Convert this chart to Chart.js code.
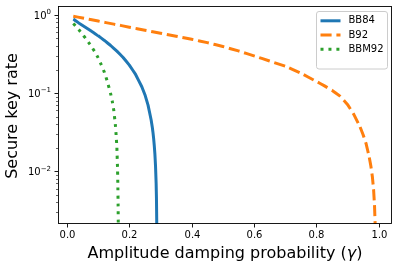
<!DOCTYPE html>
<html><head><meta charset="utf-8">
<script src="https://cdn.jsdelivr.net/npm/chart.js@4/dist/chart.umd.min.js"></script>
<style>html,body{margin:0;padding:0;background:#fff;overflow:hidden}#wrap{width:399px;height:271px;position:relative}</style>
</head><body><div id="wrap"><canvas id="c" width="399" height="271"></canvas></div>
<script>
// ---- data ----
const seriesNames = ['BB84', 'B92', 'BBM92'];
const bb84Gamma = [0.02,0.04,0.06,0.08,0.10,0.12,0.14,0.16,0.18,0.20,0.22,0.24,0.25,0.26,0.27,0.274,0.276,0.278,0.280,0.282,0.284,0.286,0.287,0.288,0.2887];
const bb84Rate  = [0.885,0.777,0.691,0.612,0.540,0.471,0.406,0.344,0.285,0.228,0.173,0.1205,0.0953,0.0701,0.0452,0.0357,0.0309,0.0261,0.0213,0.0165,0.0117,0.0069,0.0045,0.0021,0.0005];
const b92Gamma  = [0.02,0.05,0.10,0.15,0.20,0.25,0.30,0.35,0.40,0.45,0.50,0.55,0.60,0.65,0.70,0.75,0.80,0.825,0.85,0.875,0.90,0.92,0.94,0.95,0.96,0.97,0.975,0.98,0.984,0.987,0.989,0.99];
const b92Rate   = [0.962,0.912,0.834,0.762,0.697,0.637,0.582,0.533,0.488,0.442,0.394,0.346,0.299,0.257,0.221,0.180,0.141,0.1245,0.1084,0.0923,0.0716,0.0537,0.0372,0.0295,0.0224,0.0151,0.01175,0.00851,0.00575,0.00355,0.0020,0.00063];
const bbm92Gamma = [0.02,0.03,0.04,0.05,0.06,0.07,0.08,0.09,0.10,0.11,0.12,0.13,0.14,0.145,0.15,0.155,0.158,0.160,0.162,0.163,0.164,0.1645,0.165];
const bbm92Rate  = [0.775,0.708,0.631,0.562,0.499,0.440,0.385,0.333,0.282,0.229,0.184,0.138,0.0977,0.0794,0.0603,0.0398,0.0275,0.020,0.0112,0.0071,0.00355,0.0020,0.00063];

const xTickValues = [0.0,0.2,0.4,0.6,0.8,1.0];
const xTickLabels = ['0.0','0.2','0.4','0.6','0.8','1.0'];
const yMajorTicks = [0.01,0.1,1];
const yMajorExps  = ['\u22122','\u22121','0'];
const xTitle = 'Amplitude damping probability (';
const xTitleSym = '\u03b3';
const xTitleEnd = ')';
const yTitle = 'Secure key rate';

const xMin = -0.029, xMax = 1.043, yMin = 0.00211, yMax = 1.30;

const colors = ['#1f77b4','#ff7f0e','#2ca02c'];
const dashes = [[], [11.1,4.8], [3,4.95]];
const FONT = '"DejaVu Sans", sans-serif';

function pts(g, r){ return g.map((v,i)=>({x:v, y:r[i]})); }

const decor = {
  id:'decor',
  afterDraw(chart){
    const {ctx, chartArea:a, scales:{x, y}} = chart;
    ctx.save();
    // frame
    ctx.strokeStyle = '#000'; ctx.lineWidth = 0.9;
    ctx.strokeRect(a.left+0.5, a.top+0.5, a.right-a.left-1, a.bottom-a.top-1);
    ctx.fillStyle = '#000';
    // x ticks + labels
    ctx.font = '10px ' + FONT; ctx.textAlign = 'center'; ctx.textBaseline = 'middle';
    xTickValues.forEach((v,i)=>{
      const px = Math.round(x.getPixelForValue(v)) + 0.5;
      ctx.beginPath(); ctx.moveTo(px, a.bottom); ctx.lineTo(px, a.bottom+3.5); ctx.stroke();
      ctx.fillText(xTickLabels[i], px, 235);
    });
    // y ticks (major + minor)
    for (let k=-3;k<=0;k++){
      for (let m=1;m<=9;m++){
        const v = m*Math.pow(10,k);
        if (v < yMin || v > yMax) continue;
        const py = Math.round(y.getPixelForValue(v)) + 0.5;
        const len = m===1 ? 3.5 : 2;
        ctx.lineWidth = m===1 ? 0.9 : 0.6;
        ctx.beginPath(); ctx.moveTo(a.left, py); ctx.lineTo(a.left-len, py); ctx.stroke();
      }
    }
    // y labels 10^k
    yMajorTicks.forEach((v,i)=>{
      const py = y.getPixelForValue(v);
      ctx.font = '7px ' + FONT;
      const ew = ctx.measureText(yMajorExps[i]).width;
      const right = 51;
      ctx.textAlign = 'left'; ctx.textBaseline = 'alphabetic';
      ctx.fillText(yMajorExps[i], right-ew, py+3.6-4.2);
      ctx.font = '10px ' + FONT; ctx.textAlign = 'right';
      ctx.fillText('10', right-ew, py+3.6);
    });
    // axis titles
    ctx.font = '16px ' + FONT; ctx.textBaseline = 'middle';
    const w1 = ctx.measureText(xTitle).width;
    const w3 = ctx.measureText(xTitleEnd).width;
    ctx.font = 'italic 16px ' + FONT;
    const w2 = ctx.measureText(xTitleSym).width;
    const cx = (a.left+a.right)/2, tot = w1+w2+w3;
    let sx = cx - tot/2;
    ctx.textAlign = 'left';
    ctx.font = '16px ' + FONT; ctx.fillText(xTitle, sx, 254);
    ctx.font = 'italic 16px ' + FONT; ctx.fillText(xTitleSym, sx+w1, 254);
    ctx.font = '16px ' + FONT; ctx.fillText(xTitleEnd, sx+w1+w2, 254);
    ctx.save();
    ctx.translate(13, (a.top+a.bottom)/2+1);
    ctx.rotate(-Math.PI/2);
    ctx.textAlign = 'center';
    ctx.fillText(yTitle, 0, 0);
    ctx.restore();
    // legend
    const lx = 316.5, ly = 11.5, lw = 71, lh = 57.5, r = 2.5;
    ctx.beginPath();
    ctx.moveTo(lx+r, ly); ctx.lineTo(lx+lw-r, ly); ctx.arcTo(lx+lw, ly, lx+lw, ly+r, r);
    ctx.lineTo(lx+lw, ly+lh-r); ctx.arcTo(lx+lw, ly+lh, lx+lw-r, ly+lh, r);
    ctx.lineTo(lx+r, ly+lh); ctx.arcTo(lx, ly+lh, lx, ly+lh-r, r);
    ctx.lineTo(lx, ly+r); ctx.arcTo(lx, ly, lx+r, ly, r); ctx.closePath();
    ctx.fillStyle = 'rgba(255,255,255,0.8)'; ctx.fill();
    ctx.strokeStyle = '#cccccc'; ctx.lineWidth = 1; ctx.stroke();
    const rows = [20.8, 35, 49.2];
    seriesNames.forEach((n,i)=>{
      ctx.strokeStyle = colors[i]; ctx.lineWidth = 3; ctx.setLineDash(dashes[i]); ctx.lineCap='butt';
      ctx.beginPath(); ctx.moveTo(320.5, rows[i]); ctx.lineTo(340.5, rows[i]); ctx.stroke();
      ctx.setLineDash([]);
      ctx.fillStyle = '#000'; ctx.font = '10px ' + FONT; ctx.textAlign='left'; ctx.textBaseline='middle';
      ctx.fillText(n, 348.5, rows[i]);
    });
    ctx.restore();
  }
};

const rates = [bb84Rate, b92Rate, bbm92Rate];
const gammas = [bb84Gamma, b92Gamma, bbm92Gamma];
new Chart(document.getElementById('c'), {
  type:'line',
  data:{ datasets: seriesNames.map((n,i)=>({
    label:n, data:pts(gammas[i], rates[i]), borderColor:colors[i], backgroundColor:colors[i],
    borderWidth:3, borderDash:dashes[i], pointRadius:0, fill:false, tension:0.000001, clip:0,
    order:3-i, borderJoinStyle:'round'
  }))},
  options:{
    responsive:false, animation:false, devicePixelRatio:1,
    layout:{padding:{left:0,right:7,top:6,bottom:0}},
    plugins:{legend:{display:false}, tooltip:{enabled:false}},
    scales:{
      x:{type:'linear', min:xMin, max:xMax, grid:{display:false}, border:{display:false}, ticks:{display:false}, afterFit(s){s.height=47;}},
      y:{type:'logarithmic', min:yMin, max:yMax, grid:{display:false}, border:{display:false}, ticks:{display:false}, afterFit(s){s.width=58;}}
    }
  },
  plugins:[decor]
});
</script>
</body></html>
